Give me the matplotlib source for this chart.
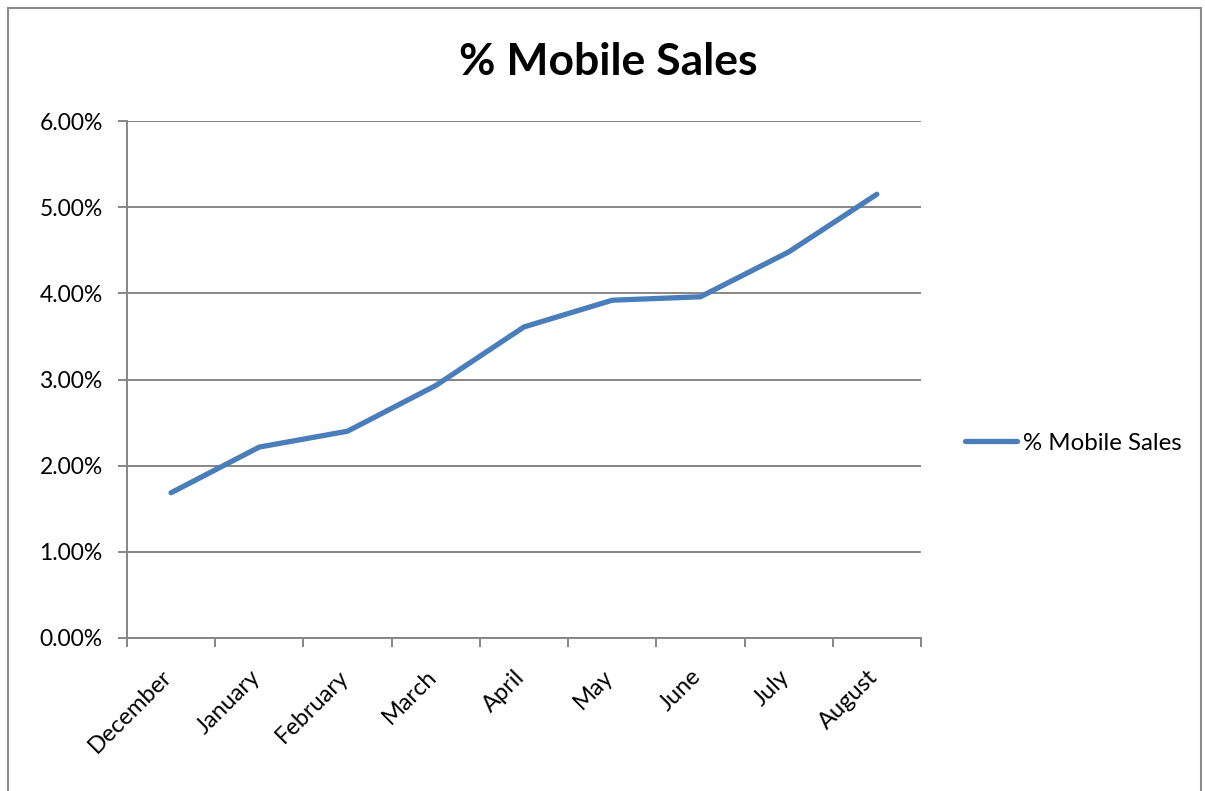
import matplotlib
matplotlib.use("Agg")
import matplotlib.pyplot as plt
from matplotlib.patches import Rectangle
from matplotlib.ticker import FixedLocator, FuncFormatter, NullFormatter
from matplotlib.transforms import ScaledTranslation

plt.rcParams['font.family'] = ['Lato', 'DejaVu Sans']

months = ["December", "January", "February", "March", "April",
          "May", "June", "July", "August"]
mobile_share = [0.01686, 0.02216, 0.0240, 0.0293, 0.0361,
                0.0392, 0.0396, 0.0448, 0.0515]
series_name = "% Mobile Sales"
y_ticks = [0.0, 0.01, 0.02, 0.03, 0.04, 0.05, 0.06]

W, H = 1205, 791
fig = plt.figure(figsize=(W / 100, H / 100), dpi=100)

# outer chart frame
fig.patches.append(Rectangle((8 / W, -0.05), (1201 - 8) / W, 1.05 - 8 / H,
                             transform=fig.transFigure, fill=False,
                             edgecolor="#8c8c8c", linewidth=1.5))

ax = fig.add_axes([127 / W, 1 - 638 / H, (921 - 127) / W, (638 - 121) / H])

grey = "#868686"
blue = "#4a7ebb"
x = list(range(len(months)))

ax.plot(x, mobile_share, color=blue, linewidth=3.8, solid_capstyle="round",
        solid_joinstyle="round", label=series_name, zorder=3)

ax.set_xlim(-0.5, len(months) - 0.5)
ax.set_ylim(0, 0.06)

ax.set_yticks(y_ticks)
ax.yaxis.set_major_formatter(FuncFormatter(lambda v, p: f"{v * 100:.2f}%"))
ax.grid(axis="y", color=grey, linewidth=1.4)
ax.set_axisbelow(True)

# category boundaries carry the tick marks; month names sit at the centres
ax.xaxis.set_major_locator(FixedLocator([i - 0.5 for i in range(len(months) + 1)]))
ax.xaxis.set_major_formatter(NullFormatter())
label_tf = ax.get_xaxis_transform() + ScaledTranslation(-0.10, -0.28, fig.dpi_scale_trans)
for xi, name in zip(x, months):
    ax.text(xi, 0, name, transform=label_tf, rotation=45, ha="right", va="top",
            rotation_mode="anchor", fontsize=17, clip_on=False)

ax.tick_params(axis="x", which="major", length=6.5, width=1.4, color=grey)
ax.tick_params(axis="y", length=6.5, width=1.4, color=grey, labelsize=16.5, pad=11)

for side in ("top", "right"):
    ax.spines[side].set_visible(False)
for side in ("left", "bottom"):
    ax.spines[side].set_color(grey)
    ax.spines[side].set_linewidth(1.4)

fig.text(608 / W, 1 - 62 / H, "% Mobile Sales", ha="center", va="center",
         fontsize=32, fontweight="bold")

ax.legend(loc="center left", bbox_to_anchor=(955 / W, 1 - 443 / H),
          bbox_transform=fig.transFigure, frameon=False, fontsize=17.3,
          handlelength=2.2, handletextpad=0.25, borderaxespad=0)

fig.savefig("out.png", dpi=100, facecolor="white")
